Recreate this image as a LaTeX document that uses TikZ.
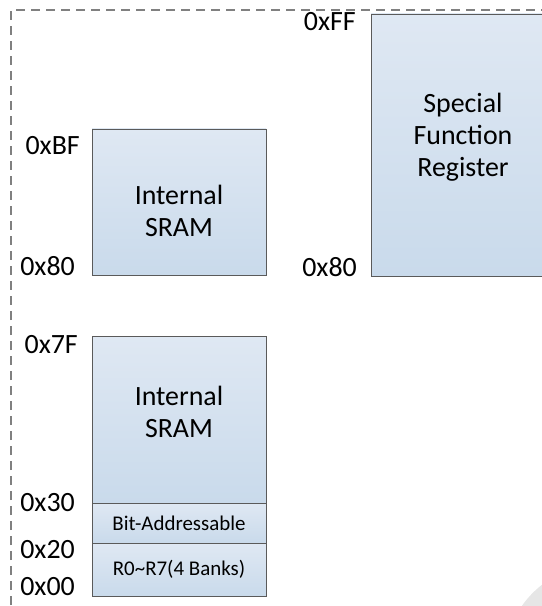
\documentclass[tikz,border=0pt]{standalone}
\usepackage{fontspec}
\setmainfont{Carlito}
\usetikzlibrary{positioning}

\definecolor{boxtop}{RGB}{223,232,243}
\definecolor{boxbot}{RGB}{201,218,235}
\definecolor{boxline}{RGB}{90,90,90}
\definecolor{frameline}{RGB}{128,128,128}
\definecolor{shadow}{RGB}{230,230,230}

\begin{document}
\begin{tikzpicture}[x=1bp,y=-1bp,
    membox/.style={draw=boxline, line width=0.9bp, top color=boxtop, bottom color=boxbot, rectangle, inner sep=0pt},
    boxtext/.style={align=center, inner sep=0pt, font=\fontsize{28}{32}\selectfont},
    smalltext/.style={inner sep=0pt, font=\fontsize{21}{25}\selectfont},
    addr/.style={anchor=east, inner sep=0pt, font=\fontsize{28}{32}\selectfont}]
    \useasboundingbox (0,0) rectangle (542,606);

    % outer frame
    \draw[frameline, line width=1.2bp, dash pattern=on 9bp off 6bp] (11,620) -- (11,10) -- (560,10);

    % corner shadow
    \fill[shadow] (600,660) circle (95);

    % upper internal SRAM
    \node[membox, minimum width=174bp, minimum height=146bp] (sramhi) at (179,202) {};
    \node[boxtext] (sramhi-txt) at (179,211) {Internal\\SRAM};

    % special function register
    \node[membox, minimum width=184bp, minimum height=262bp] (sfr) at (463,145) {};
    \node[boxtext] (sfr-txt) at (463,137) {Special\\Function\\Register};

    % lower internal SRAM
    \node[membox, minimum width=174bp, minimum height=167bp] (sramlo) at (179,419.5) {};
    \node[boxtext] (sramlo-txt) at (179,412) {Internal\\SRAM};
    \node[membox, minimum width=174bp, minimum height=40bp] (bitaddr) at (179,523) {};
    \node[smalltext] (bitaddr-txt) at (179,523) {Bit-Addressable};
    \node[membox, minimum width=174bp, minimum height=53bp] (banks) at (179,569.5) {};
    \node[smalltext] (banks-txt) at (179,569) {R0\textasciitilde R7(4 Banks)};

    % addresses
    \node[addr] (a-bf) at (80,146) {0xBF};
    \node[addr] (a-80l) at (75,266) {0x80};
    \node[addr] (a-ff) at (356,22) {0xFF};
    \node[addr] (a-80r) at (357,267) {0x80};
    \node[addr] (a-7f) at (78,345) {0x7F};
    \node[addr] (a-30) at (75,503) {0x30};
    \node[addr] (a-20) at (75,550) {0x20};
    \node[addr] (a-00) at (75,587) {0x00};
\end{tikzpicture}
\end{document}
